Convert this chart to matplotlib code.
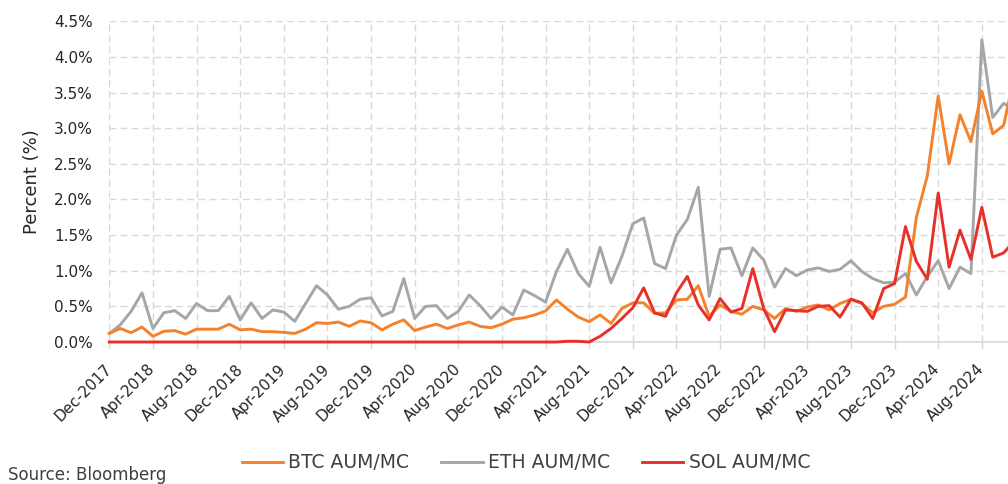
import matplotlib
matplotlib.use("Agg")
import matplotlib.pyplot as plt
import numpy as np
import pandas as pd

# ---- data (percent) ----
months = pd.date_range("2017-12-01", periods=84, freq="MS")
month_labels = [d.strftime("%b-%Y") for d in months]

btc = [0.12, 0.19, 0.13, 0.21, 0.08, 0.15, 0.16, 0.11, 0.18, 0.18, 0.18, 0.25,
       0.17, 0.18, 0.145, 0.145, 0.135, 0.12, 0.18, 0.27, 0.26, 0.28, 0.22, 0.295,
       0.27, 0.17, 0.25, 0.31, 0.16, 0.21, 0.25, 0.19, 0.24, 0.28, 0.22, 0.20,
       0.25, 0.32, 0.34, 0.38, 0.435, 0.59, 0.46, 0.35, 0.285, 0.38, 0.26, 0.47,
       0.55, 0.55, 0.40, 0.41, 0.59, 0.60, 0.79, 0.36, 0.52, 0.43, 0.39, 0.50,
       0.45, 0.33, 0.47, 0.43, 0.49, 0.52, 0.45, 0.54, 0.60, 0.54, 0.41, 0.50,
       0.53, 0.63, 1.75, 2.33, 3.45, 2.50, 3.19, 2.81, 3.52, 2.92, 3.04, 3.75]

eth = [0.12, 0.24, 0.43, 0.69, 0.19, 0.41, 0.44, 0.33, 0.54, 0.44, 0.44, 0.64,
       0.31, 0.55, 0.33, 0.45, 0.42, 0.29, 0.54, 0.79, 0.66, 0.46, 0.50, 0.60,
       0.62, 0.365, 0.43, 0.89, 0.33, 0.50, 0.51, 0.33, 0.43, 0.66, 0.51, 0.33,
       0.49, 0.38, 0.73, 0.65, 0.56, 0.99, 1.30, 0.96, 0.78, 1.33, 0.83, 1.20,
       1.66, 1.74, 1.10, 1.03, 1.50, 1.72, 2.17, 0.64, 1.30, 1.32, 0.93, 1.32,
       1.15, 0.77, 1.03, 0.93, 1.01, 1.04, 0.99, 1.02, 1.14, 0.99, 0.89, 0.83,
       0.84, 0.96, 0.66, 0.92, 1.14, 0.75, 1.05, 0.96, 4.24, 3.15, 3.35, 3.25]

sol = [0.0] * 42 + [0.01, 0.01, 0.0,
       0.08, 0.19, 0.33, 0.48, 0.76, 0.41, 0.36, 0.69, 0.92, 0.52, 0.31, 0.61,
       0.42, 0.47, 1.03, 0.47, 0.145, 0.45, 0.44, 0.43, 0.50, 0.51, 0.35, 0.60,
       0.55, 0.33, 0.75, 0.82, 1.62, 1.13, 0.88, 2.09, 1.05, 1.57, 1.16, 1.89,
       1.19, 1.25, 1.42]

series_names = ["BTC AUM/MC", "ETH AUM/MC", "SOL AUM/MC"]
colors = ["#F4812B", "#A6A6A6", "#E8302A"]

# ---- figure ----
plt.rcParams["font.family"] = ["DejaVu Sans"]
fig = plt.figure(figsize=(10.08, 4.84), dpi=100)
W, H = 1008, 484
x0, x1 = 109.3, 1008
y0, y1 = 342, 21.3
ax = fig.add_axes([x0 / W, 1 - y0 / H, (x1 - x0) / W, (y0 - y1) / H])

x = np.arange(len(months))
l_eth, = ax.plot(x, eth, color=colors[1], lw=2.1, zorder=3, clip_on=False)
l_btc, = ax.plot(x, btc, color=colors[0], lw=2.1, zorder=4, clip_on=False)
l_sol, = ax.plot(x, sol, color=colors[2], lw=2.1, zorder=5, clip_on=False)

ax.set_xlim(0, 82.4)
ax.set_ylim(0, 4.5)

ticks = np.arange(0, len(months), 4)
ax.set_xticks(ticks)
ax.set_xticklabels([month_labels[i] for i in ticks], rotation=45, ha="right",
                   va="center", rotation_mode="anchor", fontsize=11, color="#262626")
ax.set_yticks(np.arange(0, 4.51, 0.5))
ax.set_yticklabels([f"{v:.1f}%" for v in np.arange(0, 4.51, 0.5)], fontsize=11,
                   color="#262626")

ax.tick_params(axis="y", length=0, pad=12)
ax.tick_params(axis="x", length=5, width=1, color="#d9d9d9", pad=13)

ax.grid(True, color="#d9d9d9", lw=1.0, linestyle=(0, (5, 3)), zorder=0)
ax.set_axisbelow(True)
for s in ["top", "right", "left"]:
    ax.spines[s].set_visible(False)
ax.spines["bottom"].set_color("#d9d9d9")
ax.spines["bottom"].set_linewidth(1.2)

fig.text(32 / W, 1 - 181.5 / H, "Percent (%)", rotation=90, ha="center",
         va="center", fontsize=13, color="#262626")

fig.legend([l_btc, l_eth, l_sol], series_names, loc="center",
           bbox_to_anchor=(526 / W, 1 - 463 / H), ncol=3, frameon=False,
           fontsize=13.5, handlelength=2.2, handletextpad=0.3, columnspacing=1.7,
           labelcolor="#404040")

fig.text(8 / W, 1 - 475 / H, "Source: Bloomberg", ha="left", va="center",
         fontsize=12, color="#404040")

fig.savefig("out.png", dpi=100)
